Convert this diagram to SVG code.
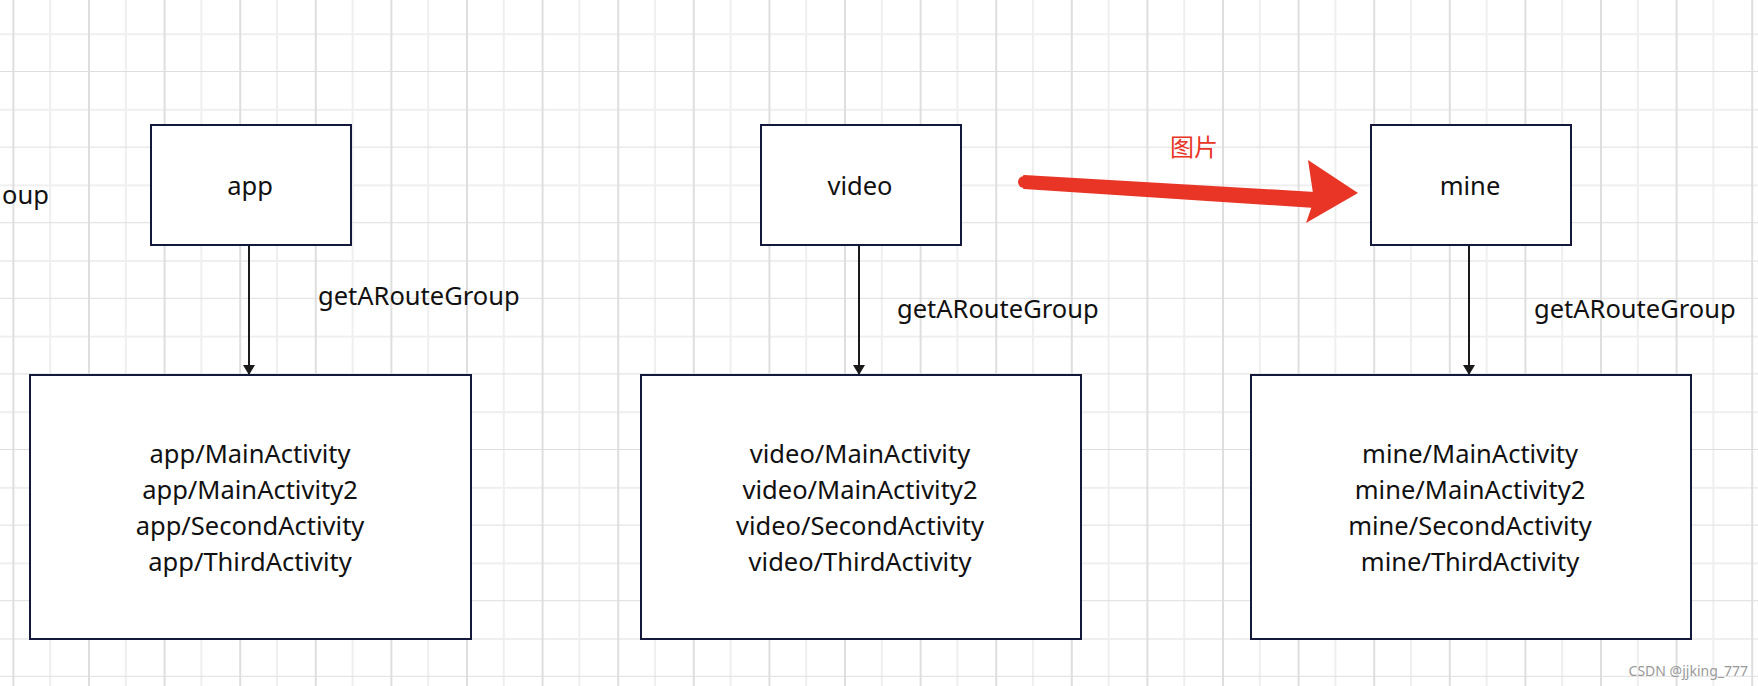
<svg xmlns="http://www.w3.org/2000/svg" width="1758" height="686" viewBox="0 0 1758 686">
<defs>
<pattern id="grid" x="12.4" y="-3.6" width="75.6" height="75.6" patternUnits="userSpaceOnUse">
<path d="M37.8 0V75.6M0 37.8H75.6" stroke="#efefef" stroke-width="2" fill="none"/>
<path d="M1 0V75.6M0 75.6H75.6" stroke="#dedede" stroke-width="2" fill="none"/>
</pattern>
<marker id="ah" markerWidth="10" markerHeight="12" refX="9" refY="6" orient="auto" markerUnits="userSpaceOnUse">
<path d="M0 0L10 6L0 12Z" fill="#1a1a1a"/>
</marker>
<style>
.box{fill:#fff;stroke:#14183a;stroke-width:2}
text{font-family:"Noto Sans","Noto Sans CJK SC",sans-serif;font-size:25.5px;fill:#111}
.c{text-anchor:middle}
.edge{stroke:#1a1a1a;stroke-width:2;fill:none;marker-end:url(#ah)}
</style>
</defs>
<rect width="1758" height="686" fill="#fff"/>
<rect width="1758" height="686" fill="url(#grid)"/>
<text x="2" y="204">oup</text>
<g id="connectors">
<line class="edge" x1="249" y1="245" x2="249" y2="374"/>
<line class="edge" x1="859" y1="245" x2="859" y2="374"/>
<line class="edge" x1="1469" y1="245" x2="1469" y2="374"/>
<text x="318" y="305">getARouteGroup</text>
<text x="897" y="318">getARouteGroup</text>
<text x="1534" y="318">getARouteGroup</text>
</g>
<g id="app"><rect class="box" x="151" y="125" width="200" height="120"/><text class="c" x="250" y="195">app</text></g>
<g id="video"><rect class="box" x="761" y="125" width="200" height="120"/><text class="c" x="860" y="195">video</text></g>
<g id="mine"><rect class="box" x="1371" y="125" width="200" height="120"/><text class="c" x="1470" y="195">mine</text></g>
<g id="app-routes"><rect class="box" x="30" y="375" width="441" height="264"/>
<text class="c" x="250" y="463">app/MainActivity</text><text class="c" x="250" y="499">app/MainActivity2</text><text class="c" x="250" y="535">app/SecondActivity</text><text class="c" x="250" y="571">app/ThirdActivity</text></g>
<g id="video-routes"><rect class="box" x="641" y="375" width="440" height="264"/>
<text class="c" x="860" y="463">video/MainActivity</text><text class="c" x="860" y="499">video/MainActivity2</text><text class="c" x="860" y="535">video/SecondActivity</text><text class="c" x="860" y="571">video/ThirdActivity</text></g>
<g id="mine-routes"><rect class="box" x="1251" y="375" width="440" height="264"/>
<text class="c" x="1470" y="463">mine/MainActivity</text><text class="c" x="1470" y="499">mine/MainActivity2</text><text class="c" x="1470" y="535">mine/SecondActivity</text><text class="c" x="1470" y="571">mine/ThirdActivity</text></g>
<g id="red-arrow">
<path d="M1024 176L1315 193L1315 207L1024 188Z" fill="#e83526" stroke="#e83526" stroke-width="2" stroke-linejoin="round"/>
<circle cx="1024" cy="182" r="6" fill="#e83526"/>
<path d="M1308 160L1358 193L1306 223L1314 200Z" fill="#e83526"/>
<text x="1170" y="156" style="fill:#e83526;font-size:24px">图片</text>
</g>
<text x="1748" y="676" text-anchor="end" style="font-size:14px;fill:#999">CSDN @jjking_777</text>
</svg>
